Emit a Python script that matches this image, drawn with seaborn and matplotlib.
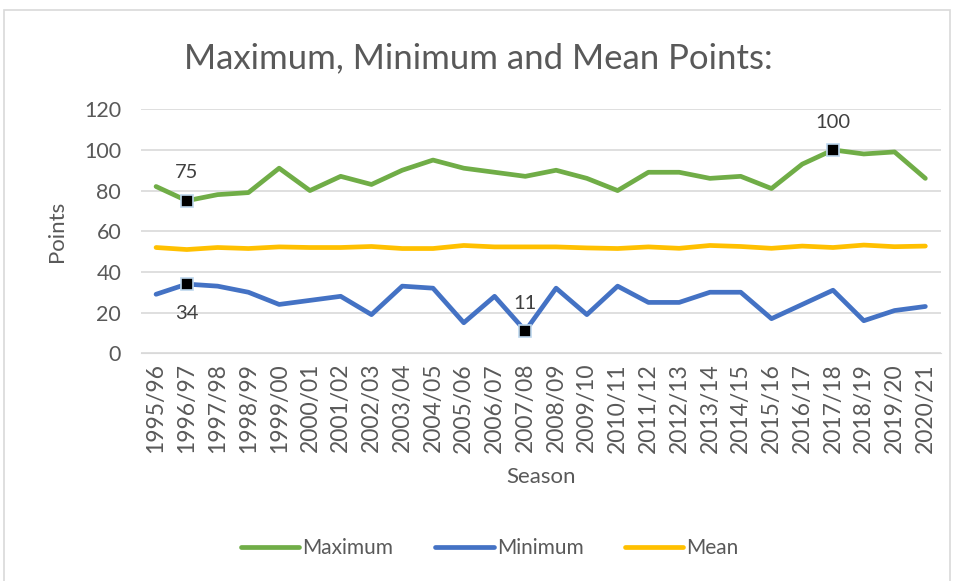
import numpy as np
import pandas as pd
import matplotlib
matplotlib.use('Agg')
import matplotlib.pyplot as plt
import seaborn as sns

seasons = ['1995/96', '1996/97', '1997/98', '1998/99', '1999/00', '2000/01', '2001/02',
           '2002/03', '2003/04', '2004/05', '2005/06', '2006/07', '2007/08', '2008/09',
           '2009/10', '2010/11', '2011/12', '2012/13', '2013/14', '2014/15', '2015/16',
           '2016/17', '2017/18', '2018/19', '2019/20', '2020/21']
maximum = [82, 75, 78, 79, 91, 80, 87, 83, 90, 95, 91, 89, 87, 90, 86, 80, 89, 89, 86, 87, 81, 93, 100, 98, 99, 86]
minimum = [29, 34, 33, 30, 24, 26, 28, 19, 33, 32, 15, 28, 11, 32, 19, 33, 25, 25, 30, 30, 17, 24, 31, 16, 21, 23]
mean = [52, 51, 52, 51.5, 52.3, 52, 52, 52.5, 51.5, 51.5, 53, 52.3, 52.3, 52.3, 51.8, 51.5, 52.3, 51.6, 53, 52.5, 51.6, 52.7, 52, 53.2, 52.4, 52.7]

# highlighted points: (series, season index, label, position)
highlights = [('Maximum', 1, '75', 'above'), ('Minimum', 1, '34', 'below'),
              ('Minimum', 12, '11', 'above'), ('Maximum', 22, '100', 'above')]

df = pd.DataFrame({'idx': np.arange(len(seasons)), 'Maximum': maximum, 'Minimum': minimum, 'Mean': mean})
long = df.melt(id_vars='idx', var_name='Series', value_name='Points')

sns.set_style('white')
plt.rcParams['font.family'] = ['Lato', 'DejaVu Sans']
txt = '#595959'

fig = plt.figure(figsize=(9.57, 5.81), dpi=100)
# chart area border
fig.add_artist(plt.Rectangle((4 / 957, -0.01), 946 / 957, 1 - 10 / 581 + 0.01, transform=fig.transFigure,
                             fill=False, edgecolor='#d9d9d9', linewidth=1.2))
ax = fig.add_axes([0.147, 0.392, 0.836, 0.42])

palette = {'Maximum': '#70AD47', 'Minimum': '#4472C4', 'Mean': '#FFC000'}
sns.lineplot(data=long, x='idx', y='Points', hue='Series', palette=palette, linewidth=3.4,
             ax=ax, legend=False)

vals = {'Maximum': maximum, 'Minimum': minimum, 'Mean': mean}
for name, i, lab, pos in highlights:
    y = vals[name][i]
    ax.plot(i, y, marker='s', markersize=8, color='black', markeredgecolor='#BDD7EE',
            markeredgewidth=1.2, zorder=5)
    off = 20 if pos == 'above' else -21
    ax.annotate(lab, (i, y), xytext=(0, off), textcoords='offset points', ha='center',
                va='center', fontsize=14.5, color='#404040')

ax.set_xlim(-0.5, len(seasons) - 0.5)
ax.set_ylim(0, 120)
ax.set_yticks(range(0, 121, 20))
ax.set_xticks(range(len(seasons)))
ax.set_xticklabels(seasons, rotation=90)
ax.tick_params(axis='both', labelsize=15.5, colors=txt, length=0)
ax.tick_params(axis='x', labelsize=16.5, pad=7)
ax.tick_params(axis='y', pad=14)
ax.grid(axis='y', color='#d9d9d9', linewidth=1.2)
ax.set_axisbelow(True)
for s in ['top', 'right', 'left']:
    ax.spines[s].set_visible(False)
ax.spines['bottom'].set_color('#d9d9d9')

ax.set_xlabel('Season', fontsize=16, color=txt, labelpad=10)
ax.set_ylabel('Points', fontsize=16, color=txt, labelpad=12)
fig.suptitle('Maximum, Minimum and Mean Points:', fontsize=25, color=txt, x=0.5, y=0.9, va='center')

handles = [plt.Line2D([], [], color=palette[k], linewidth=3.4, solid_capstyle='round') for k in palette]
fig.legend(handles, list(palette), loc='center', bbox_to_anchor=(0.512, 0.057), ncol=3,
           frameon=False, fontsize=15, handlelength=2.8, handletextpad=0.15, columnspacing=2.0,
           labelcolor=txt)

fig.savefig('out.png', dpi=100)
